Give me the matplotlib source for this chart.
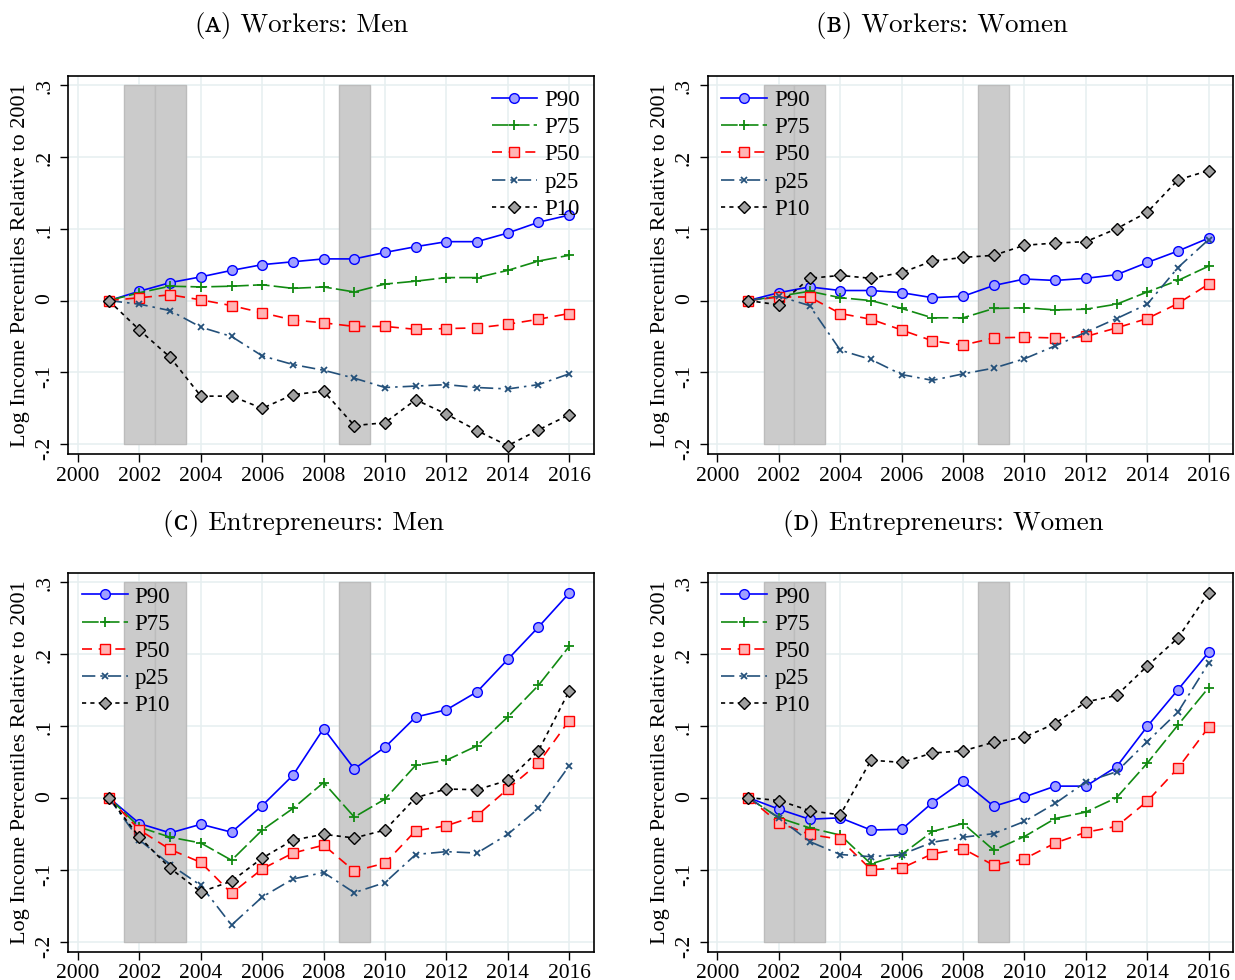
import numpy as np
import matplotlib
matplotlib.use("Agg")
import matplotlib.pyplot as plt

years = list(range(2001, 2017))

# panel A: workers, men
a_p90 = [0, 0.013, 0.025, 0.033, 0.042, 0.050, 0.054, 0.058, 0.058, 0.067, 0.075, 0.082, 0.082, 0.094, 0.109, 0.119]
a_p75 = [0, 0.011, 0.020, 0.019, 0.020, 0.022, 0.017, 0.019, 0.012, 0.023, 0.027, 0.032, 0.032, 0.042, 0.055, 0.063]
a_p50 = [0, 0.004, 0.008, 0.001, -0.007, -0.017, -0.027, -0.031, -0.036, -0.036, -0.040, -0.039, -0.038, -0.033, -0.026, -0.018]
a_p25 = [0, -0.005, -0.014, -0.037, -0.050, -0.077, -0.089, -0.097, -0.108, -0.121, -0.119, -0.117, -0.121, -0.123, -0.117, -0.102]
a_p10 = [0, -0.041, -0.079, -0.133, -0.133, -0.150, -0.131, -0.126, -0.174, -0.170, -0.138, -0.158, -0.181, -0.202, -0.180, -0.159]

# panel B: workers, women
b_p90 = [0, 0.011, 0.019, 0.014, 0.014, 0.011, 0.004, 0.006, 0.021, 0.030, 0.028, 0.031, 0.036, 0.053, 0.069, 0.087]
b_p75 = [0, 0.006, 0.013, 0.004, 0.000, -0.011, -0.024, -0.024, -0.011, -0.010, -0.013, -0.012, -0.005, 0.012, 0.028, 0.048]
b_p50 = [0, 0.005, 0.005, -0.018, -0.026, -0.041, -0.056, -0.062, -0.052, -0.051, -0.052, -0.050, -0.038, -0.025, -0.004, 0.023]
b_p25 = [0, 0.006, -0.007, -0.069, -0.082, -0.103, -0.111, -0.102, -0.094, -0.081, -0.063, -0.044, -0.025, -0.005, 0.046, 0.085]
b_p10 = [0, -0.006, 0.031, 0.035, 0.031, 0.039, 0.055, 0.060, 0.063, 0.077, 0.080, 0.082, 0.100, 0.123, 0.168, 0.181]

# panel C: entrepreneurs, men
c_p90 = [0, -0.036, -0.049, -0.037, -0.048, -0.011, 0.031, 0.096, 0.040, 0.070, 0.112, 0.122, 0.147, 0.192, 0.237, 0.284]
c_p75 = [0, -0.041, -0.055, -0.063, -0.087, -0.045, -0.015, 0.021, -0.027, -0.002, 0.045, 0.052, 0.072, 0.112, 0.156, 0.210]
c_p50 = [0, -0.045, -0.072, -0.090, -0.133, -0.099, -0.077, -0.066, -0.102, -0.091, -0.046, -0.039, -0.025, 0.012, 0.048, 0.107]
c_p25 = [0, -0.059, -0.093, -0.122, -0.177, -0.138, -0.113, -0.104, -0.132, -0.118, -0.079, -0.075, -0.077, -0.051, -0.015, 0.044]
c_p10 = [0, -0.055, -0.098, -0.131, -0.116, -0.084, -0.059, -0.051, -0.056, -0.045, 0.000, 0.012, 0.011, 0.024, 0.065, 0.148]

# panel D: entrepreneurs, women
d_p90 = [0, -0.016, -0.030, -0.028, -0.045, -0.044, -0.007, 0.023, -0.012, 0.001, 0.016, 0.016, 0.043, 0.099, 0.150, 0.202]
d_p75 = [0, -0.028, -0.042, -0.052, -0.092, -0.079, -0.047, -0.036, -0.073, -0.054, -0.029, -0.020, 0.000, 0.048, 0.101, 0.153]
d_p50 = [0, -0.035, -0.051, -0.058, -0.100, -0.098, -0.078, -0.071, -0.094, -0.085, -0.063, -0.048, -0.040, -0.005, 0.041, 0.098]
d_p25 = [0, -0.028, -0.061, -0.079, -0.082, -0.079, -0.062, -0.055, -0.050, -0.033, -0.008, 0.022, 0.036, 0.078, 0.119, 0.187]
d_p10 = [0, -0.004, -0.018, -0.024, 0.052, 0.049, 0.062, 0.065, 0.077, 0.084, 0.103, 0.133, 0.142, 0.183, 0.222, 0.285]

labels = ["P90", "P75", "P50", "p25", "P10"]
titles = ["(\u1d00) Workers: Men", "(\u0299) Workers: Women",
          "(\u1d04) Entrepreneurs: Men", "(\u1d05) Entrepreneurs: Women"]
recessions = [(2001.5, 2002.5), (2002.5, 2003.5), (2008.5, 2009.5)]
xticks = list(range(2000, 2017, 2))
yticks = [-0.2, -0.1, 0, 0.1, 0.2, 0.3]
ytick_labels = ["-.2", "-.1", "0", ".1", ".2", ".3"]

panels = [
    [a_p90, a_p75, a_p50, a_p25, a_p10],
    [b_p90, b_p75, b_p50, b_p25, b_p10],
    [c_p90, c_p75, c_p50, c_p25, c_p10],
    [d_p90, d_p75, d_p50, d_p25, d_p10],
]

styles = [
    dict(color="#0000ff", ls="-", marker="o", mfc="#a0a0ff", mec="#0000ff", ms=7),
    dict(color="#118a11", ls=(0, (10, 2.5)), marker="+", mfc="#118a11", mec="#118a11", ms=7.5, mew=1.3),
    dict(color="#ff0000", ls=(0, (6, 4)), marker="s", mfc="#ffb4b4", mec="#ff0000", ms=7),
    dict(color="#23507a", ls=(0, (8, 3, 1.5, 3)), marker="x", mfc="#23507a", mec="#23507a", ms=5, mew=1.3),
    dict(color="#000000", ls=(0, (2.5, 2.5)), marker="D", mfc="#a0a0a0", mec="#000000", ms=6.5),
]

plt.rcParams['font.family'] = ['Liberation Serif', 'DejaVu Serif']

fig = plt.figure(figsize=(12.35, 9.8), dpi=100)
positions = [
    [0.0553, 0.5364, 0.4254, 0.386],
    [0.5730, 0.5364, 0.4256, 0.386],
    [0.0553, 0.0289, 0.4254, 0.3867],
    [0.5730, 0.0289, 0.4256, 0.3867],
]
title_xy = [(0.2445, 0.9735), (0.763, 0.9735), (0.2455, 0.466), (0.764, 0.466)]

for k, series in enumerate(panels):
    ax = fig.add_axes(positions[k])
    for t in xticks:
        ax.axvline(t, color="#e6eff0", lw=1.1, zorder=0)
    for t in yticks:
        ax.axhline(t, color="#e6eff0", lw=1.1, zorder=0)
    for x0, x1 in recessions:
        ax.fill_between([x0, x1], -0.2, 0.3, facecolor="#cbcbcb", edgecolor="#bcbcbc", lw=1, zorder=1)
    for vals, lab, st in zip(series, labels, styles):
        ax.plot(years, vals, lw=1.2, label=lab, zorder=3, **st)
    ax.set_xlim(1999.68, 2016.8)
    ax.set_ylim(-0.214, 0.3125)
    ax.set_xticks(xticks)
    ax.set_yticks(yticks)
    ax.set_yticklabels(ytick_labels)
    ax.tick_params(axis='both', labelsize=15.5, length=6, width=1, direction='out')
    ax.tick_params(axis='y', labelrotation=90, pad=4)
    ax.tick_params(axis='x', pad=3)
    for s in ax.spines.values():
        s.set_linewidth(1.2)
    ax.set_ylabel("Log Income Percentiles Relative to 2001", fontsize=16)
    ax.yaxis.set_label_coords(-0.072, 0.5)
    loc = "upper right" if k == 0 else "upper left"
    leg = ax.legend(loc=loc, frameon=False, fontsize=16.5, handlelength=2.0,
                    labelspacing=0.27, handletextpad=0.3, borderaxespad=0.2)
    leg.set_zorder(5)
    fig.text(title_xy[k][0], title_xy[k][1], titles[k], ha='center', va='center',
             fontsize=19.5, family=['cmr10', 'DejaVu Serif'])

fig.savefig("out.png", dpi=100)
